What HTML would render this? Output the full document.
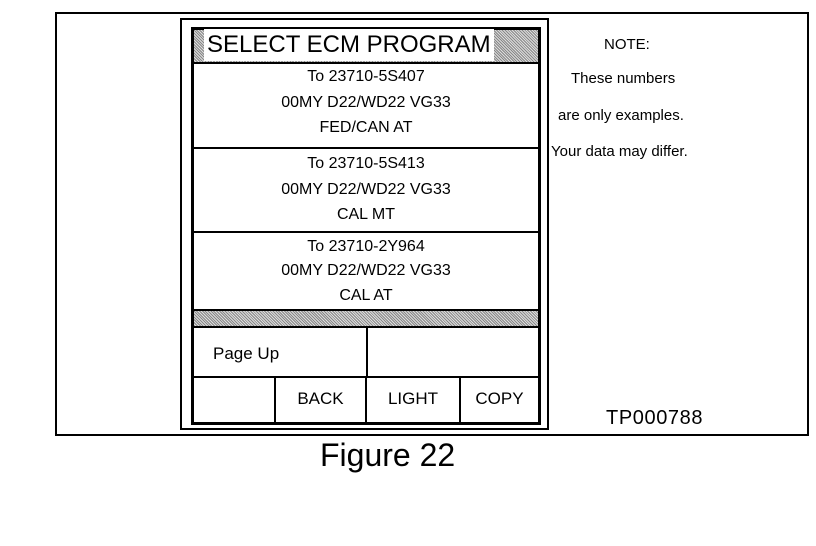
<!DOCTYPE html>
<html><head><style>
body{margin:0;background:#fff;width:816px;height:546px;position:relative;overflow:hidden;font-family:"Liberation Sans",Arial,sans-serif;color:#000}
div{position:absolute;box-sizing:border-box}
.t{font-size:16px;text-align:center;width:100%}
.gray{background:repeating-linear-gradient(45deg,#888 0 1px,#ddd 1px 2px)}
</style></head><body>
<div style="left:55px;top:12px;width:754px;height:424px;border:2px solid #000"></div>
<div style="left:180px;top:18px;width:369px;height:412px;border:2px solid #000"></div>
<div style="left:191px;top:27px;width:350px;height:398px;border:3px solid #000"></div>
<div class="gray" style="left:194px;top:30px;width:344px;height:32px"></div>
<div style="left:204px;top:29px;font-size:24px;background:#fff;padding:0 3px;line-height:32px;height:32px">SELECT ECM PROGRAM</div>
<div style="left:194px;top:62px;width:344px;height:2px;background:#000"></div>
<div style="left:194px;top:64px;width:344px;height:84px"><div class="t" style="top:4px">To 23710-5S407</div><div class="t" style="top:30px">00MY D22/WD22 VG33</div><div class="t" style="top:55px">FED/CAN AT</div></div>
<div style="left:194px;top:147px;width:344px;height:2px;background:#000"></div>
<div style="left:194px;top:149px;width:344px;height:84px"><div class="t" style="top:6px">To 23710-5S413</div><div class="t" style="top:32px">00MY D22/WD22 VG33</div><div class="t" style="top:57px">CAL MT</div></div>
<div style="left:194px;top:231px;width:344px;height:2px;background:#000"></div>
<div style="left:194px;top:233px;width:344px;height:78px"><div class="t" style="top:5px">To 23710-2Y964</div><div class="t" style="top:29px">00MY D22/WD22 VG33</div><div class="t" style="top:54px">CAL AT</div></div>
<div style="left:194px;top:309px;width:344px;height:2px;background:#000"></div>
<div class="gray" style="left:194px;top:311px;width:344px;height:15px"></div>
<div style="left:194px;top:326px;width:344px;height:2px;background:#000"></div>
<div style="left:213px;top:344px;font-size:17px">Page Up</div>
<div style="left:366px;top:327px;width:2px;height:50px;background:#000"></div>
<div style="left:194px;top:376px;width:344px;height:2px;background:#000"></div>
<div style="left:274px;top:377px;width:2px;height:46px;background:#000"></div>
<div style="left:365px;top:377px;width:2px;height:46px;background:#000"></div>
<div style="left:459px;top:377px;width:2px;height:46px;background:#000"></div>
<div style="left:276px;top:389px;width:89px;text-align:center;font-size:17px">BACK</div>
<div style="left:367px;top:389px;width:92px;text-align:center;font-size:17px">LIGHT</div>
<div style="left:461px;top:389px;width:77px;text-align:center;font-size:17px">COPY</div>
<div style="left:604px;top:36px;font-size:15px">NOTE:</div>
<div style="left:571px;top:70px;font-size:15px">These numbers</div>
<div style="left:558px;top:107px;font-size:15px">are only examples.</div>
<div style="left:551px;top:143px;font-size:15px">Your data may differ.</div>
<div style="left:606px;top:407px;font-size:20px;letter-spacing:0.6px">TP000788</div>
<div style="left:320px;top:437px;font-size:32px">Figure 22</div>
</body></html>
